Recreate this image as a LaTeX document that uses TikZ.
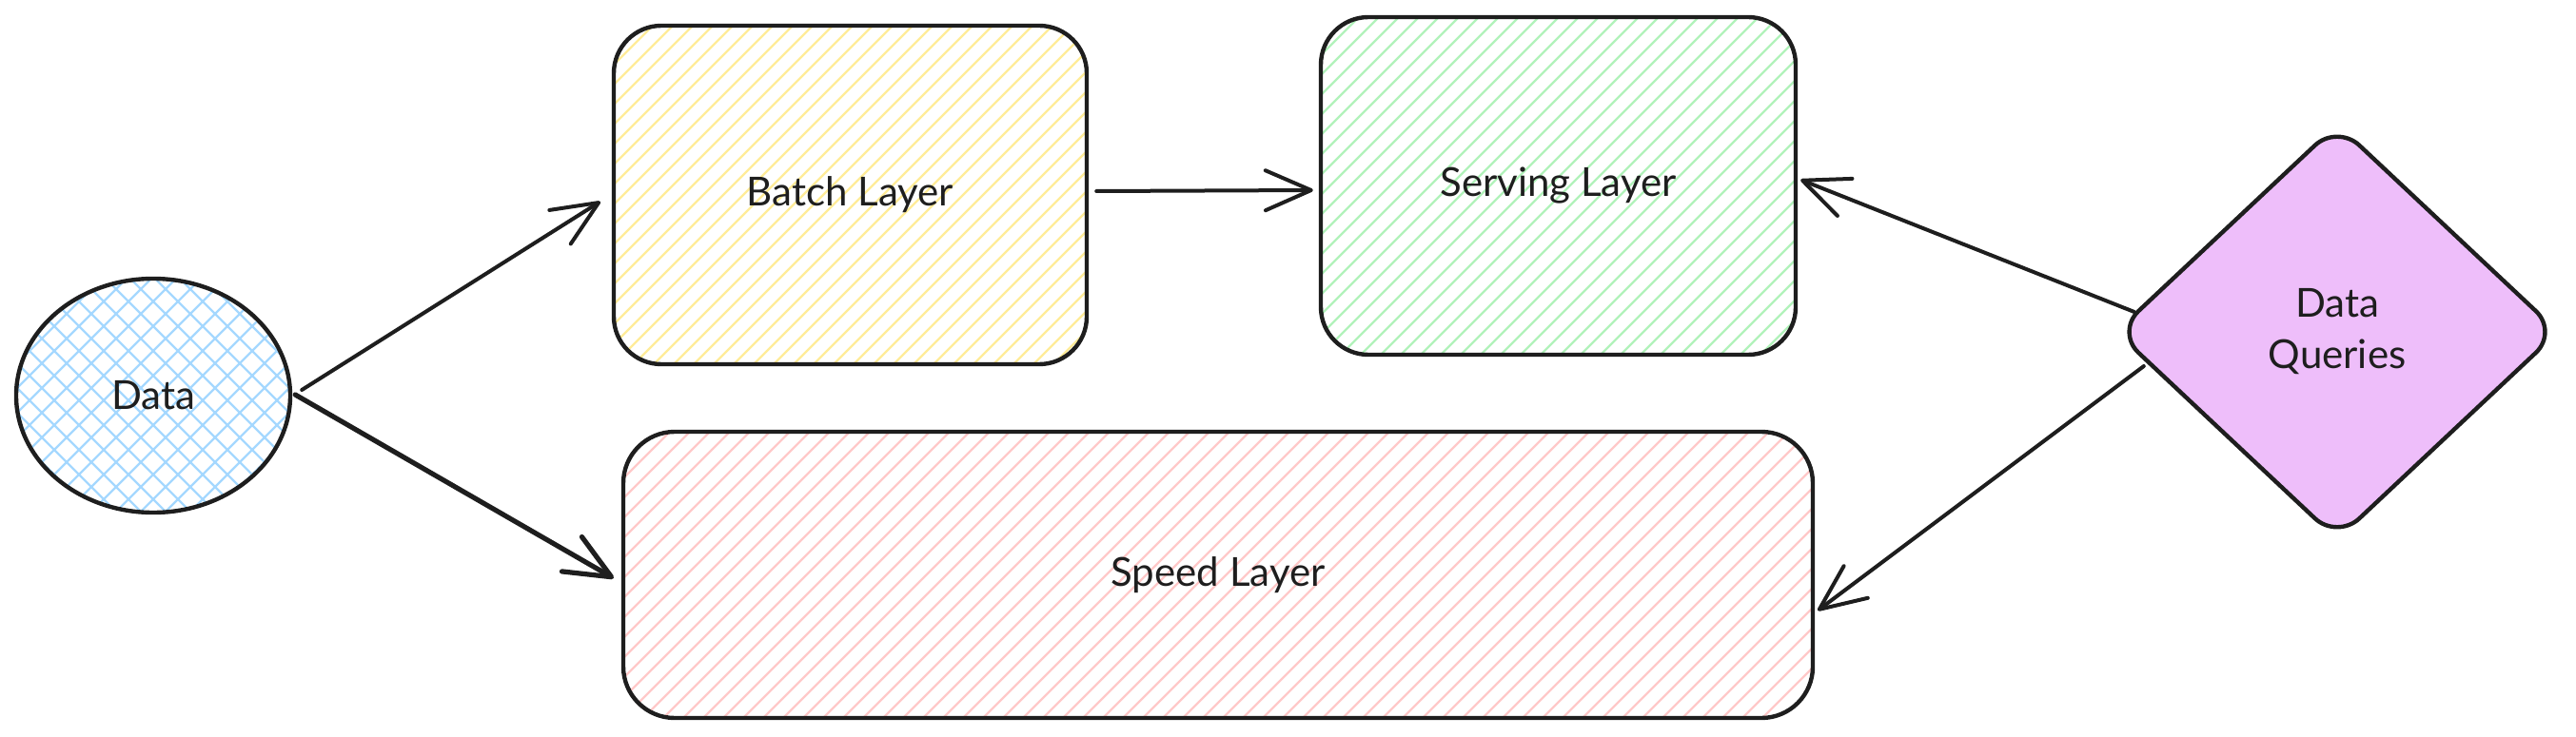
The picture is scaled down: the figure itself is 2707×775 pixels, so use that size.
\documentclass[tikz,border=0pt]{standalone}
\usepackage{fontspec}
\setmainfont{Lato}
\usetikzlibrary{shapes.geometric,arrows.meta,calc}
\definecolor{ink}{HTML}{1E1E1E}
\definecolor{hblue}{HTML}{A5D8FF}
\definecolor{hyellow}{HTML}{FFEC99}
\definecolor{hgreen}{HTML}{B2F2BB}
\definecolor{hred}{HTML}{FFC9C9}
\definecolor{qpurple}{HTML}{EEBEFA}
\tikzset{
  hatch/.style 2 args={path picture={
    \foreach \k in {-50,...,70}{
      \draw[#1,line width=1.1pt] ([xshift=\k*#2]path picture bounding box.south west) -- ++(45:900pt);
    }}},
  crosshatch/.style 2 args={path picture={
    \foreach \k in {-30,...,30}{
      \draw[#1,line width=1.1pt] ([xshift=\k*#2]path picture bounding box.south west) -- ++(45:500pt);
      \draw[#1,line width=1.1pt] ([xshift=\k*#2]path picture bounding box.south east) -- ++(135:500pt);
    }}},
  shapeline/.style={draw=ink,line width=2.2pt,inner sep=0pt,font=\fontsize{21}{25}\selectfont,text=ink},
  layerbox/.style={shapeline,rectangle,rounded corners=25pt},
  conn/.style={draw=ink,line width=2pt,line cap=round,-{Straight Barb[length=24pt,width=21pt,round]}},
}
\begin{document}
\begin{tikzpicture}[x=0.5pt,y=-0.5pt]
\useasboundingbox (0,0) rectangle (2707,775);
% shapes
\node[shapeline,ellipse,minimum width=144pt,minimum height=123pt,crosshatch={hblue}{13pt}] (data) at (161,416) {Data};
\node[layerbox,minimum width=248.5pt,minimum height=178pt,hatch={hyellow}{10.5pt}] (batch) at (893.5,205) {Batch Layer};
\node[layerbox,minimum width=249.5pt,minimum height=177.5pt,hatch={hgreen}{10.5pt}] (serving) at (1637.5,195.5) {Serving Layer};
\node[layerbox,rounded corners=27pt,minimum width=625pt,minimum height=150.5pt,hatch={hred}{10.5pt}] (speed) at (1280,604.5) {Speed Layer};
\node[shapeline,diamond,aspect=1.07,rounded corners=16pt,fill=qpurple,minimum width=233pt,minimum height=219pt,align=center,font=\fontsize{21}{27}\selectfont] (queries) at (2456,349) {Data\\Queries};
% connectors
\draw[conn] ($(data.east)+(10,-6)$) -- ($(batch.west)+(-12,7)$);
\draw[conn,line width=2.6pt] ($(data.east)+(3,-1)$) -- ($(speed.west)+(-8,3.5)$);
\draw[conn] ($(batch.east)+(8,-4)$) -- ($(serving.west)+(-6,4.5)$);
\draw[conn] ($(queries.west)+(22,-21)$) -- ($(serving.east)+(3,-6.5)$);
\draw[conn] ($(queries.west)+(32,36)$) -- ($(speed.east)+(3,37.5)$);
\end{tikzpicture}
\end{document}
